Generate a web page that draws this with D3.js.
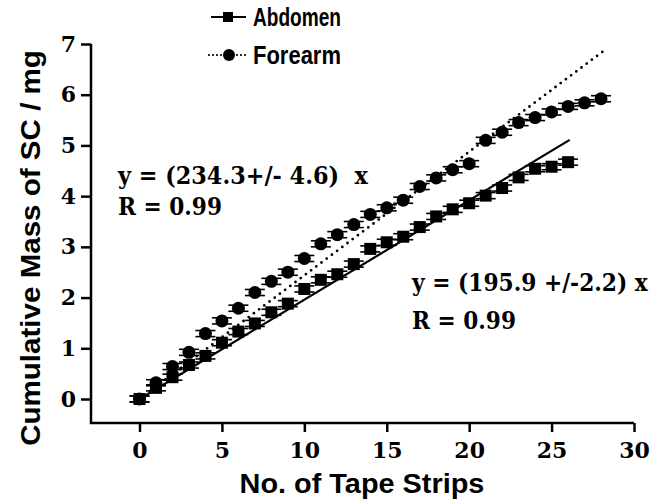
<!DOCTYPE html>
<html>
<meta charset="utf-8">
<script src="https://d3js.org/d3.v7.js"></script>
<style>
  body { margin: 0; background: #fff; }
  text { white-space: pre; }
</style>
<body>
<div id="chart"></div>
<script>
// strips (x) and cumulative mass (mg)
var abdomenX = [0,1,2,3,4,5,6,7,8,9,10,11,12,13,14,15,16,17,18,19,20,21,22,23,24,25,26];
var abdomenY = [0,0.22,0.43,0.67,0.85,1.11,1.33,1.49,1.71,1.88,2.17,2.35,2.46,2.66,2.96,3.09,3.20,3.39,3.60,3.74,3.86,4.01,4.16,4.37,4.54,4.58,4.67];
var forearmX = [0,1,2,3,4,5,6,7,8,9,10,11,12,13,14,15,16,17,18,19,20,21,22,23,24,25,26,27,28];
var forearmY = [0,0.32,0.64,0.92,1.29,1.54,1.79,2.10,2.32,2.50,2.77,3.06,3.24,3.44,3.64,3.77,3.92,4.19,4.36,4.52,4.64,5.10,5.26,5.45,5.55,5.66,5.77,5.84,5.92];
var errBar = 0.06;

// linear fits
var abdomenFitX = [0, 26.1], abdomenFitY = [0, 5.11];
var forearmFitX = [0, 28.1], forearmFitY = [0, 6.85];

var xTicks = [0,5,10,15,20,25,30];
var yTicks = [0,1,2,3,4,5,6,7];

var width = 663, height = 501;
var svg = d3.select("#chart").append("svg")
  .attr("width", width).attr("height", height);

var x = d3.scaleLinear().domain([0, 30]).range([139.5, 634]);
var y = d3.scaleLinear().domain([0, 7]).range([399, 44]);
var axisY = 423, axisX = 91;

// squeeze a text horizontally so it takes the given width (condensed look)
function squeeze(t, tx, ty, w, rot) {
  var n = t.node().getComputedTextLength();
  t.attr("transform", "translate(" + tx + "," + ty + ")" + (rot ? " rotate(" + rot + ")" : "") + " scale(" + (w / n) + ",1)");
}

// axes
var xa = svg.append("g").attr("transform", "translate(0," + axisY + ")")
  .call(d3.axisBottom(x).tickValues(xTicks).tickSize(9).tickPadding(10).tickFormat(d3.format("d")));
var ya = svg.append("g").attr("transform", "translate(" + axisX + ",0)")
  .call(d3.axisLeft(y).tickValues(yTicks).tickSize(10).tickPadding(5).tickFormat(d3.format("d")));
[xa, ya].forEach(function(g) {
  g.select(".domain").remove();
  g.selectAll(".tick line").attr("stroke", "#000").attr("stroke-width", 2.5);
  g.selectAll(".tick text").attr("fill", "#000")
    .style("font-family", "'DejaVu Serif'").style("font-weight", "bold").style("font-size", "22px");
});
svg.append("path")
  .attr("d", "M" + axisX + "," + y(7) + "V" + axisY + "H" + x(30))
  .attr("fill", "none").attr("stroke", "#000").attr("stroke-width", 2.5);

// axis titles
var xt = svg.append("text").attr("text-anchor", "middle")
  .style("font-family", "'Liberation Sans'").style("font-weight", "bold").style("font-size", "27px")
  .text("No. of Tape Strips");
squeeze(xt, 362, 493, 245);
var yt = svg.append("text").attr("text-anchor", "middle")
  .style("font-family", "'Liberation Sans'").style("font-weight", "bold").style("font-size", "27px")
  .text("Cumulative Mass of SC / mg");
squeeze(yt, 40, 248, 396, -90);

// fit lines
var line = d3.line().x(function(d) { return x(d[0]); }).y(function(d) { return y(d[1]); });
svg.append("path").datum(d3.zip(abdomenFitX, abdomenFitY))
  .attr("d", line).attr("fill", "none").attr("stroke", "#000").attr("stroke-width", 2.2);
svg.append("path").datum(d3.zip(forearmFitX, forearmFitY))
  .attr("d", line).attr("fill", "none").attr("stroke", "#000").attr("stroke-width", 2.8)
  .attr("stroke-linecap", "round").attr("stroke-dasharray", "0 6.5");

// error caps + markers
function caps(data) {
  var g = svg.append("g").attr("stroke", "#000").attr("stroke-width", 1.6);
  data.forEach(function(d) {
    [d[1] - errBar, d[1] + errBar].forEach(function(v) {
      g.append("line")
        .attr("x1", x(d[0]) - 10).attr("x2", x(d[0]) + 10)
        .attr("y1", y(v)).attr("y2", y(v));
    });
  });
}
var abd = d3.zip(abdomenX, abdomenY), fore = d3.zip(forearmX, forearmY);
caps(fore);
caps(abd);
svg.append("g").selectAll("circle").data(fore).enter().append("circle")
  .attr("cx", function(d) { return x(d[0]); })
  .attr("cy", function(d) { return y(d[1]); })
  .attr("r", 6.5).attr("fill", "#000");
svg.append("g").selectAll("rect").data(abd).enter().append("rect")
  .attr("x", function(d) { return x(d[0]) - 6; })
  .attr("y", function(d) { return y(d[1]) - 6; })
  .attr("width", 12).attr("height", 12).attr("fill", "#000");

// legend
var leg = svg.append("g");
leg.append("line").attr("x1", 211).attr("x2", 246).attr("y1", 17).attr("y2", 17)
  .attr("stroke", "#000").attr("stroke-width", 2.2);
leg.append("rect").attr("x", 223).attr("y", 12).attr("width", 10).attr("height", 10).attr("fill", "#000");
leg.append("line").attr("x1", 209).attr("x2", 246).attr("y1", 55).attr("y2", 55)
  .attr("stroke", "#000").attr("stroke-width", 2.2).attr("stroke-linecap", "round").attr("stroke-dasharray", "0 4");
leg.append("circle").attr("cx", 229).attr("cy", 55).attr("r", 6).attr("fill", "#000");
[["Abdomen", 26], ["Forearm", 64]].forEach(function(l) {
  var t = leg.append("text")
    .style("font-family", "'Liberation Sans'").style("font-weight", "bold").style("font-size", "25px")
    .text(l[0]);
  squeeze(t, 253, l[1], 88);
});

// fit equations
function note(tx, ty, len, s) {
  var t = svg.append("text")
    .style("font-family", "'DejaVu Serif'").style("font-weight", "bold").style("font-size", "24px")
    .text(s);
  squeeze(t, tx, ty, len);
}
note(118, 184, 250, "y = (234.3+/- 4.6)  x");
note(118, 215, 104, "R = 0.99");
note(412, 291, 236, "y = (195.9 +/-2.2) x");
note(412, 329, 104, "R = 0.99");
</script>
</body>
</html>
